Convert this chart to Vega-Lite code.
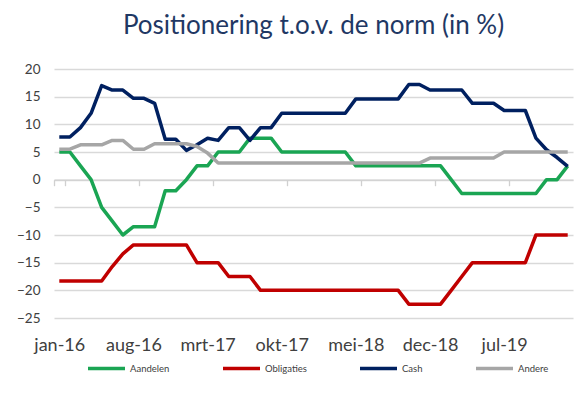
{
 "$schema": "https://vega.github.io/schema/vega-lite/v6.json",
 "width": 519, "height": 249,
 "autosize": "none",
 "padding": {"left": 54, "top": 69, "right": 7, "bottom": 75},
 "background": "white",
 "title": {"text": "Positionering t.o.v. de norm (in %)", "font": "Lato", "fontSize": 26, "fontWeight": "normal", "color": "#1f3864", "anchor": "middle", "frame": "group", "offset": 23},
 "config": {"view": {"stroke": null}, "font": "Lato"},
 "datasets": {
  "tabel": [
   {"maand":"jan-16","serie":"Aandelen","waarde":5},{"maand":"feb-16","serie":"Aandelen","waarde":5},{"maand":"mrt-16","serie":"Aandelen","waarde":2.5},{"maand":"apr-16","serie":"Aandelen","waarde":0},{"maand":"mei-16","serie":"Aandelen","waarde":-5},{"maand":"jun-16","serie":"Aandelen","waarde":-7.5},{"maand":"jul-16","serie":"Aandelen","waarde":-10},{"maand":"aug-16","serie":"Aandelen","waarde":-8.5},{"maand":"sep-16","serie":"Aandelen","waarde":-8.5},{"maand":"okt-16","serie":"Aandelen","waarde":-8.5},{"maand":"nov-16","serie":"Aandelen","waarde":-2},{"maand":"dec-16","serie":"Aandelen","waarde":-2},
   {"maand":"jan-17","serie":"Aandelen","waarde":0},{"maand":"feb-17","serie":"Aandelen","waarde":2.5},{"maand":"mrt-17","serie":"Aandelen","waarde":2.5},{"maand":"apr-17","serie":"Aandelen","waarde":5},{"maand":"mei-17","serie":"Aandelen","waarde":5},{"maand":"jun-17","serie":"Aandelen","waarde":5},{"maand":"jul-17","serie":"Aandelen","waarde":7.5},{"maand":"aug-17","serie":"Aandelen","waarde":7.5},{"maand":"sep-17","serie":"Aandelen","waarde":7.5},{"maand":"okt-17","serie":"Aandelen","waarde":5},{"maand":"nov-17","serie":"Aandelen","waarde":5},{"maand":"dec-17","serie":"Aandelen","waarde":5},
   {"maand":"jan-18","serie":"Aandelen","waarde":5},{"maand":"feb-18","serie":"Aandelen","waarde":5},{"maand":"mrt-18","serie":"Aandelen","waarde":5},{"maand":"apr-18","serie":"Aandelen","waarde":5},{"maand":"mei-18","serie":"Aandelen","waarde":2.5},{"maand":"jun-18","serie":"Aandelen","waarde":2.5},{"maand":"jul-18","serie":"Aandelen","waarde":2.5},{"maand":"aug-18","serie":"Aandelen","waarde":2.5},{"maand":"sep-18","serie":"Aandelen","waarde":2.5},{"maand":"okt-18","serie":"Aandelen","waarde":2.5},{"maand":"nov-18","serie":"Aandelen","waarde":2.5},{"maand":"dec-18","serie":"Aandelen","waarde":2.5},
   {"maand":"jan-19","serie":"Aandelen","waarde":2.5},{"maand":"feb-19","serie":"Aandelen","waarde":0},{"maand":"mrt-19","serie":"Aandelen","waarde":-2.5},{"maand":"apr-19","serie":"Aandelen","waarde":-2.5},{"maand":"mei-19","serie":"Aandelen","waarde":-2.5},{"maand":"jun-19","serie":"Aandelen","waarde":-2.5},{"maand":"jul-19","serie":"Aandelen","waarde":-2.5},{"maand":"aug-19","serie":"Aandelen","waarde":-2.5},{"maand":"sep-19","serie":"Aandelen","waarde":-2.5},{"maand":"okt-19","serie":"Aandelen","waarde":-2.5},{"maand":"nov-19","serie":"Aandelen","waarde":0},{"maand":"dec-19","serie":"Aandelen","waarde":0},{"maand":"jan-20","serie":"Aandelen","waarde":2.5},

   {"maand":"jan-16","serie":"Obligaties","waarde":-18.3},{"maand":"feb-16","serie":"Obligaties","waarde":-18.3},{"maand":"mrt-16","serie":"Obligaties","waarde":-18.3},{"maand":"apr-16","serie":"Obligaties","waarde":-18.3},{"maand":"mei-16","serie":"Obligaties","waarde":-18.3},{"maand":"jun-16","serie":"Obligaties","waarde":-15.7},{"maand":"jul-16","serie":"Obligaties","waarde":-13.4},{"maand":"aug-16","serie":"Obligaties","waarde":-11.8},{"maand":"sep-16","serie":"Obligaties","waarde":-11.8},{"maand":"okt-16","serie":"Obligaties","waarde":-11.8},{"maand":"nov-16","serie":"Obligaties","waarde":-11.8},{"maand":"dec-16","serie":"Obligaties","waarde":-11.8},
   {"maand":"jan-17","serie":"Obligaties","waarde":-11.8},{"maand":"feb-17","serie":"Obligaties","waarde":-15},{"maand":"mrt-17","serie":"Obligaties","waarde":-15},{"maand":"apr-17","serie":"Obligaties","waarde":-15},{"maand":"mei-17","serie":"Obligaties","waarde":-17.5},{"maand":"jun-17","serie":"Obligaties","waarde":-17.5},{"maand":"jul-17","serie":"Obligaties","waarde":-17.5},{"maand":"aug-17","serie":"Obligaties","waarde":-20},{"maand":"sep-17","serie":"Obligaties","waarde":-20},{"maand":"okt-17","serie":"Obligaties","waarde":-20},{"maand":"nov-17","serie":"Obligaties","waarde":-20},{"maand":"dec-17","serie":"Obligaties","waarde":-20},
   {"maand":"jan-18","serie":"Obligaties","waarde":-20},{"maand":"feb-18","serie":"Obligaties","waarde":-20},{"maand":"mrt-18","serie":"Obligaties","waarde":-20},{"maand":"apr-18","serie":"Obligaties","waarde":-20},{"maand":"mei-18","serie":"Obligaties","waarde":-20},{"maand":"jun-18","serie":"Obligaties","waarde":-20},{"maand":"jul-18","serie":"Obligaties","waarde":-20},{"maand":"aug-18","serie":"Obligaties","waarde":-20},{"maand":"sep-18","serie":"Obligaties","waarde":-20},{"maand":"okt-18","serie":"Obligaties","waarde":-22.5},{"maand":"nov-18","serie":"Obligaties","waarde":-22.5},{"maand":"dec-18","serie":"Obligaties","waarde":-22.5},
   {"maand":"jan-19","serie":"Obligaties","waarde":-22.5},{"maand":"feb-19","serie":"Obligaties","waarde":-20},{"maand":"mrt-19","serie":"Obligaties","waarde":-17.5},{"maand":"apr-19","serie":"Obligaties","waarde":-15},{"maand":"mei-19","serie":"Obligaties","waarde":-15},{"maand":"jun-19","serie":"Obligaties","waarde":-15},{"maand":"jul-19","serie":"Obligaties","waarde":-15},{"maand":"aug-19","serie":"Obligaties","waarde":-15},{"maand":"sep-19","serie":"Obligaties","waarde":-15},{"maand":"okt-19","serie":"Obligaties","waarde":-10},{"maand":"nov-19","serie":"Obligaties","waarde":-10},{"maand":"dec-19","serie":"Obligaties","waarde":-10},{"maand":"jan-20","serie":"Obligaties","waarde":-10},

   {"maand":"jan-16","serie":"Cash","waarde":7.7},{"maand":"feb-16","serie":"Cash","waarde":7.7},{"maand":"mrt-16","serie":"Cash","waarde":9.4},{"maand":"apr-16","serie":"Cash","waarde":12},{"maand":"mei-16","serie":"Cash","waarde":17},{"maand":"jun-16","serie":"Cash","waarde":16.2},{"maand":"jul-16","serie":"Cash","waarde":16.2},{"maand":"aug-16","serie":"Cash","waarde":14.7},{"maand":"sep-16","serie":"Cash","waarde":14.7},{"maand":"okt-16","serie":"Cash","waarde":13.8},{"maand":"nov-16","serie":"Cash","waarde":7.3},{"maand":"dec-16","serie":"Cash","waarde":7.3},
   {"maand":"jan-17","serie":"Cash","waarde":5.3},{"maand":"feb-17","serie":"Cash","waarde":6.3},{"maand":"mrt-17","serie":"Cash","waarde":7.5},{"maand":"apr-17","serie":"Cash","waarde":7.1},{"maand":"mei-17","serie":"Cash","waarde":9.4},{"maand":"jun-17","serie":"Cash","waarde":9.4},{"maand":"jul-17","serie":"Cash","waarde":7.1},{"maand":"aug-17","serie":"Cash","waarde":9.4},{"maand":"sep-17","serie":"Cash","waarde":9.4},{"maand":"okt-17","serie":"Cash","waarde":12},{"maand":"nov-17","serie":"Cash","waarde":12},{"maand":"dec-17","serie":"Cash","waarde":12},
   {"maand":"jan-18","serie":"Cash","waarde":12},{"maand":"feb-18","serie":"Cash","waarde":12},{"maand":"mrt-18","serie":"Cash","waarde":12},{"maand":"apr-18","serie":"Cash","waarde":12},{"maand":"mei-18","serie":"Cash","waarde":14.6},{"maand":"jun-18","serie":"Cash","waarde":14.6},{"maand":"jul-18","serie":"Cash","waarde":14.6},{"maand":"aug-18","serie":"Cash","waarde":14.6},{"maand":"sep-18","serie":"Cash","waarde":14.6},{"maand":"okt-18","serie":"Cash","waarde":17.2},{"maand":"nov-18","serie":"Cash","waarde":17.2},{"maand":"dec-18","serie":"Cash","waarde":16.2},
   {"maand":"jan-19","serie":"Cash","waarde":16.2},{"maand":"feb-19","serie":"Cash","waarde":16.2},{"maand":"mrt-19","serie":"Cash","waarde":16.2},{"maand":"apr-19","serie":"Cash","waarde":13.8},{"maand":"mei-19","serie":"Cash","waarde":13.8},{"maand":"jun-19","serie":"Cash","waarde":13.8},{"maand":"jul-19","serie":"Cash","waarde":12.5},{"maand":"aug-19","serie":"Cash","waarde":12.5},{"maand":"sep-19","serie":"Cash","waarde":12.5},{"maand":"okt-19","serie":"Cash","waarde":7.5},{"maand":"nov-19","serie":"Cash","waarde":5.4},{"maand":"dec-19","serie":"Cash","waarde":4},{"maand":"jan-20","serie":"Cash","waarde":2.4},

   {"maand":"jan-16","serie":"Andere","waarde":5.5},{"maand":"feb-16","serie":"Andere","waarde":5.5},{"maand":"mrt-16","serie":"Andere","waarde":6.3},{"maand":"apr-16","serie":"Andere","waarde":6.3},{"maand":"mei-16","serie":"Andere","waarde":6.3},{"maand":"jun-16","serie":"Andere","waarde":7.1},{"maand":"jul-16","serie":"Andere","waarde":7.1},{"maand":"aug-16","serie":"Andere","waarde":5.5},{"maand":"sep-16","serie":"Andere","waarde":5.5},{"maand":"okt-16","serie":"Andere","waarde":6.5},{"maand":"nov-16","serie":"Andere","waarde":6.5},{"maand":"dec-16","serie":"Andere","waarde":6.5},
   {"maand":"jan-17","serie":"Andere","waarde":6.5},{"maand":"feb-17","serie":"Andere","waarde":6},{"maand":"mrt-17","serie":"Andere","waarde":4.8},{"maand":"apr-17","serie":"Andere","waarde":3},{"maand":"mei-17","serie":"Andere","waarde":3},{"maand":"jun-17","serie":"Andere","waarde":3},{"maand":"jul-17","serie":"Andere","waarde":3},{"maand":"aug-17","serie":"Andere","waarde":3},{"maand":"sep-17","serie":"Andere","waarde":3},{"maand":"okt-17","serie":"Andere","waarde":3},{"maand":"nov-17","serie":"Andere","waarde":3},{"maand":"dec-17","serie":"Andere","waarde":3},
   {"maand":"jan-18","serie":"Andere","waarde":3},{"maand":"feb-18","serie":"Andere","waarde":3},{"maand":"mrt-18","serie":"Andere","waarde":3},{"maand":"apr-18","serie":"Andere","waarde":3},{"maand":"mei-18","serie":"Andere","waarde":3},{"maand":"jun-18","serie":"Andere","waarde":3},{"maand":"jul-18","serie":"Andere","waarde":3},{"maand":"aug-18","serie":"Andere","waarde":3},{"maand":"sep-18","serie":"Andere","waarde":3},{"maand":"okt-18","serie":"Andere","waarde":3},{"maand":"nov-18","serie":"Andere","waarde":3},{"maand":"dec-18","serie":"Andere","waarde":3.9},
   {"maand":"jan-19","serie":"Andere","waarde":3.9},{"maand":"feb-19","serie":"Andere","waarde":3.9},{"maand":"mrt-19","serie":"Andere","waarde":3.9},{"maand":"apr-19","serie":"Andere","waarde":3.9},{"maand":"mei-19","serie":"Andere","waarde":3.9},{"maand":"jun-19","serie":"Andere","waarde":3.9},{"maand":"jul-19","serie":"Andere","waarde":5},{"maand":"aug-19","serie":"Andere","waarde":5},{"maand":"sep-19","serie":"Andere","waarde":5},{"maand":"okt-19","serie":"Andere","waarde":5},{"maand":"nov-19","serie":"Andere","waarde":5},{"maand":"dec-19","serie":"Andere","waarde":5},{"maand":"jan-20","serie":"Andere","waarde":5}
  ]
 },
 "data": {"name": "tabel"},
 "mark": {"type": "line", "strokeWidth": 3.5, "strokeJoin": "round", "strokeCap": "butt"},
 "encoding": {
  "x": {"field": "maand", "type": "ordinal", "sort": null, "bandPosition": 0.5,
   "scale": {"type": "band", "paddingInner": 0, "paddingOuter": 0},
   "axis": {"title": null, "values": ["jan-16","aug-16","mrt-17","okt-17","mei-18","dec-18","jul-19"], "tickBand": "extent",
    "offset": -138.3, "labelPadding": 151, "labelAngle": 0, "labelFont": "Lato", "labelFontSize": 18, "labelColor": "#404040",
    "domainColor": "#d0d0d0", "domainWidth": 1.3, "tickColor": "#d0d0d0", "tickSize": 6, "tickWidth": 1.3, "grid": false}},
  "y": {"field": "waarde", "type": "quantitative", "scale": {"domain": [-25, 20], "nice": false, "zero": false},
   "axis": {"title": null, "values": [-25,-20,-15,-10,-5,0,5,10,15,20], "domain": false, "ticks": false, "labelPadding": 14,
    "labelFont": "Lato", "labelFontSize": 13.5, "labelColor": "#404040", "gridColor": "#d9d9d9", "gridWidth": 1.3}},
  "color": {"field": "serie", "type": "nominal",
   "scale": {"domain": ["Aandelen","Obligaties","Cash","Andere"], "range": ["#1aa553","#c00000","#002060","#a6a6a6"]},
   "legend": {"title": null, "orient": "none", "legendX": 32, "legendY": 279, "direction": "horizontal", "columns": 4,
    "gridAlign": "none", "columnPadding": 46, "symbolType": "stroke", "symbolSize": 1369, "symbolStrokeWidth": 3.5, "labelFontSize": 9.5,
    "labelFont": "Lato", "labelColor": "#404040", "labelOffset": 3}}
 }
}
